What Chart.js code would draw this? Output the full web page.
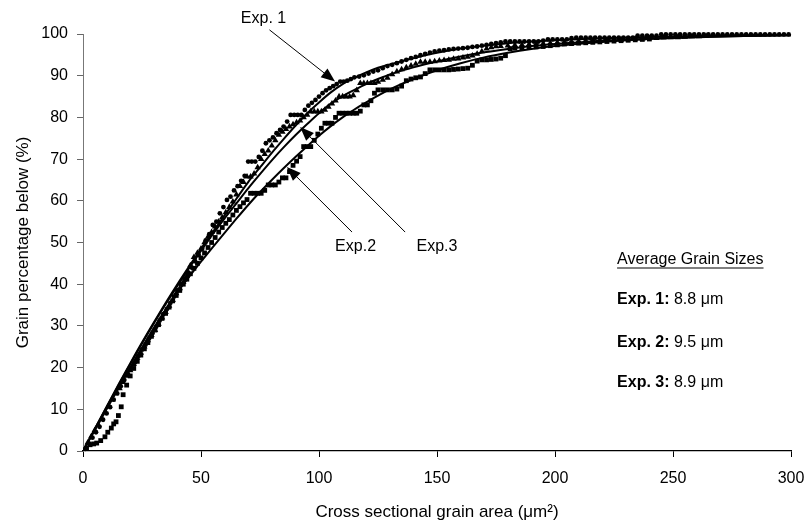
<!DOCTYPE html>
<html>
<head>
<meta charset="utf-8">
<script src="https://cdn.jsdelivr.net/npm/chart.js@4"></script>
<style>
  body { margin: 0; background: #fff; }
  #wrap { width: 808px; height: 525px; }
</style>
</head>
<body>
<div id="wrap"><canvas id="grainChart" width="808" height="525"></canvas></div>
<script>
// Data
const exp1X = [1,2.5,4,5.5,7,8.5,10,11.5,13,14.5,16,17.5,19,20.5,22,23.5,25,26.5,28,29.5,31,32.5,34,35.5,37,38.5,40,41.5,43,44.5,46,47.5,49,50.5,52,53.5,55,56.5,58,59.5,61,62.5,64,65.5,67,68.5,70,71.5,73,74.5,76,77.5,79,80.5,82,83.5,85,86.5,88,89.5,91,92.5,94,95.5,97,98.5,100,101.5,103,104.5,106,107.5,109,110.5,112,113.5,115,117,119,121,123,125,127,129,131,133,135,137,139,141,143,145,147,149,151,153,155,157,159,161,163,165,167,169,171,173,175,177,179,181,183,185,187,189,191,193,195,197,199,201,203,205,207,209,211,213,215,217,219,221,223,225,227,229,231,233,235,237,239,241,243,245,247,249,251,253,255,257,259,261,263,265,267,269,271,273,275,277,279,281,283,285,287,289,291,293,295,297,299];
const exp1Y = [0.5,1.8,3.2,4.5,5.8,7.5,9,10.5,12.3,13.8,15.5,17,18.5,19.8,21.2,22.8,24.3,25.5,27,28.3,29.8,31.3,32.8,34,35.5,37,38.5,40,41.3,42.8,44,45.5,47,48.5,50.5,52,54.2,55,57,58.5,60.2,61,62.5,63.5,64.8,66,69.4,69.4,69.4,70.5,72,73.8,74.5,75.2,76.2,77,77.8,79,80.6,80.6,80.6,80.6,81.8,82.8,83.5,84.2,85,85.8,86.5,87,87.5,88,88.6,88.6,88.8,89.2,89.6,89.8,90.1,90.5,91,91.3,91.8,92.3,92.6,93,93.4,93.8,94.2,94.5,94.9,95.2,95.5,95.8,96,96.1,96.3,96.4,96.5,96.6,96.7,96.9,97,97.2,97.4,97.6,97.8,98,98.2,98.2,98.2,98.2,98.2,98.2,98.2,98.2,98.4,98.7,98.7,98.7,98.7,98.7,99,99.1,99.1,99.1,99.1,99.1,99.1,99.1,99.1,99.1,99.1,99.1,99.1,99.1,99.6,99.6,99.6,99.6,99.6,99.9,99.9,99.9,99.9,99.9,99.9,99.9,99.9,99.9,99.9,99.9,99.9,99.9,99.9,99.9,99.9,99.9,99.9,99.9,99.9,99.9,99.9,99.9,99.9,99.9,99.9,99.9,99.9];

const exp2X = [1.5,3,4.5,5.8,7.5,9.3,10.5,12,13,14,15,16.2,17,18.5,20,21.5,23,24.5,26,27.5,29,30.5,32,33.5,35,36.5,38,39.5,41,42.5,44,45.5,47,48.5,50,51.5,53,54.5,56,57.5,59,60.5,62,63.5,65,66.5,68,69.5,71,72.5,74,75.5,77,78.5,80,81.5,83,84.5,86,87.5,89,90.5,92,93.5,95,96.5,98,99.5,101,102.5,104,105.5,107,108.5,110,111.5,113,114.5,116,117.5,119,120.5,122,123.5,125,127,129,131,133,135,137,139,141,143,145,147,149,151,153,155,157,159,161,163,165,167,169,171,173,175,177,179,181,183,186,189,192,195,198,201,204,207,210,213,216,219,222,225,228,231,234,237,240];
const exp2Y = [0.7,1.5,1.7,1.9,2.5,3.4,4.5,5.5,6.5,7,8.5,10.6,13.5,15.8,18,19.8,21.5,23,24.5,26,27.5,29,30.3,31.8,33,34.5,36,37.3,38.5,40,41.2,42.5,43.8,45,46.3,47.5,48.8,50,51.2,52.5,53.6,54.6,55.5,56.6,57.7,58.6,59.5,60.3,61.8,61.8,61.8,61.8,62.5,63.8,63.8,63.8,64.5,65.5,65.5,67,68.5,69.5,70.6,73,73,73,74.5,76,77.4,78.6,78.6,78.6,80,81,81,81,81,81,81,81.5,83,83,84,85.8,86.6,86.6,86.6,86.6,86.8,87.5,88.8,89.2,89.5,89.7,90.5,91.4,91.4,91.4,91.4,91.4,91.5,91.6,91.7,91.8,92.5,93.5,93.8,93.8,93.9,94,94.2,94.8,96.5,96.6,96.7,96.8,96.9,97,97.2,97.4,97.6,97.7,97.8,97.9,98,98.1,98.2,98.3,98.4,98.5,98.6,98.7,98.8,98.9];

const exp3X = [2,3.5,5,6.5,8,9.5,11,12.5,14,15.5,17,18.5,20,21.5,23,24.5,26,27.5,29,30.5,32,33.5,35,36.5,38,39.5,41,42.5,44,45.5,47,48.5,50,51.5,53,54.5,56,57.5,59,60.5,62,63.5,65,66.5,68,69.5,71,72.5,74,75.5,77,78.5,80,81.5,83,84.5,86,87.5,89,90.5,92,93.5,95,96.5,98,99.5,101,102.5,104,105.5,107,108.5,110,111.5,113,114.5,116,117.5,119,120.5,122,123.5,125,127,129,131,133,135,137,139,141,143,145,147,149,151,153,155,157,159,161,163,165,167,169,171,173,175,177,180,183,186,189,192,195,198,201,204,207,210,213,216,219,222,225,228,231,234,237,240,243,246,249,252,255,258,261,264];
const exp3Y = [2,3.5,5,6.3,7.8,9.3,10.8,12.3,13.8,15,16.5,18,19.3,20.8,22.3,23.5,25,26.5,27.8,29,30.5,32,33.3,34.8,36.2,37.8,39,40.5,42,44.5,46.5,47.5,48.5,50,51.4,52.5,53.8,55,56,57.2,58.5,59.8,61.5,63.5,64.5,65.8,65.8,66.5,68,70,71.2,72,73.2,74.5,75.8,76.5,77.2,77.8,78.3,78.8,79.2,80,80.6,81.4,81.4,81.4,81.4,81.8,82.5,83.3,84,85,85,85,85,85.3,86.5,88.2,88.2,88.2,88.2,88.2,88.5,89,89.5,90.3,91,91.5,92,92.4,92.8,93.3,93.3,93.3,93.4,93.6,93.7,93.8,94,94.1,94.3,94.5,94.8,95.2,95.8,96.5,96.8,97,97.1,97.2,97.3,97.4,97.5,97.6,97.7,97.8,97.9,98,98.1,98.2,98.3,98.4,98.4,98.5,98.6,98.6,98.7,98.8,98.9,99,99,99.1,99.2,99.2,99.3,99.4,99.4,99.5];

// fitted curves
const fitX  = [0,5,10,15,20,25,30,35,40,45,50,55,60,65,70,75,80,85,90,95,100,105,110,115,120,125,130,140,150,160,170,180,190,200,220,240,260,280,300];
const fit1Y = [0,5.3,10.6,15.9,21,26,30.8,35.5,40,44.3,48.5,52.5,56.5,60.5,64.5,68,71.5,74.8,78,81,83.6,86,88,89.5,90.8,91.9,92.7,94.2,95.5,96.5,97.2,97.8,98.2,98.5,99,99.3,99.5,99.7,99.8];
const fit2Y = [0,5,10,15,20,24.8,29.5,33.9,38,41.8,45.4,48.9,52.3,55.7,59,62.1,65,67.8,70.5,73.1,75.6,77.9,80,81.9,83.6,85.2,86.7,89.2,91.3,93,94.4,95.5,96.4,97.1,98.1,98.8,99.2,99.5,99.7];
const fit3Y = [0,5.2,10.5,15.7,20.8,25.8,30.6,35.2,39.6,43.9,48,52,55.8,59.4,63,66.4,69.7,72.8,75.7,78.4,81,83.3,85.1,86.6,88,89.2,90.3,92,93.4,94.6,95.6,96.4,97.1,97.6,98.4,98.9,99.3,99.5,99.7];

// arrow call-outs (data units)
const calloutText = ['Exp. 1', 'Exp.2', 'Exp.3'];
const calloutTextX = [76.5, 115.5, 150];
const calloutTextY = [103.6, 48.9, 48.9];
const calloutFromX = [79, 114, 136.5];
const calloutFromY = [101, 52.5, 52.5];
const calloutTipX = [106.8, 86.4, 92];
const calloutTipY = [88.6, 68.1, 77.7];

// average grain size box
const sizeTitle = 'Average Grain Sizes';
const sizeLabels = ['Exp. 1:', 'Exp. 2:', 'Exp. 3:'];
const sizeValues = ['8.8 μm', '9.5 μm', '8.9 μm'];
const sizeBoxX = 226.3;
const sizeRowsY = [45.8, 36.2, 26.1, 16.5];

const FONT = "'Liberation Sans', Arial, Helvetica, sans-serif";

function pts(xs, ys){
    return xs.map((x, i) => ({x: x, y: ys[i]}));
}

const notesPlugin = {
    id: 'notes',
    afterDatasetsDraw(chart){
        const ctx = chart.ctx;
        const xs = chart.scales.x, ys = chart.scales.y;
        ctx.save();
        ctx.fillStyle = '#000';
        ctx.strokeStyle = '#000';

        // arrows
        calloutText.forEach((t, i) => {
            const fx = xs.getPixelForValue(calloutFromX[i]);
            const fy = ys.getPixelForValue(calloutFromY[i]);
            const tx = xs.getPixelForValue(calloutTipX[i]);
            const ty = ys.getPixelForValue(calloutTipY[i]);
            const ang = Math.atan2(ty - fy, tx - fx);
            const len = 14, half = 5.5;
            ctx.lineWidth = 1;
            ctx.beginPath();
            ctx.moveTo(fx, fy);
            ctx.lineTo(tx - Math.cos(ang) * len * 0.8, ty - Math.sin(ang) * len * 0.8);
            ctx.stroke();
            ctx.beginPath();
            ctx.moveTo(tx, ty);
            ctx.lineTo(tx - Math.cos(ang) * len + Math.sin(ang) * half, ty - Math.sin(ang) * len - Math.cos(ang) * half);
            ctx.lineTo(tx - Math.cos(ang) * len - Math.sin(ang) * half, ty - Math.sin(ang) * len + Math.cos(ang) * half);
            ctx.closePath();
            ctx.fill();

            ctx.font = '16px ' + FONT;
            ctx.textAlign = 'center';
            ctx.textBaseline = 'middle';
            ctx.fillText(t, xs.getPixelForValue(calloutTextX[i]), ys.getPixelForValue(calloutTextY[i]));
        });

        // grain size box
        const bx = xs.getPixelForValue(sizeBoxX);
        ctx.textAlign = 'left';
        ctx.textBaseline = 'middle';
        ctx.font = '16px ' + FONT;
        const hy = ys.getPixelForValue(sizeRowsY[0]);
        ctx.fillText(sizeTitle, bx, hy);
        const w = ctx.measureText(sizeTitle).width;
        ctx.lineWidth = 1.2;
        ctx.beginPath();
        ctx.moveTo(bx, hy + 8);
        ctx.lineTo(bx + w, hy + 8);
        ctx.stroke();

        sizeLabels.forEach((lab, i) => {
            const y = ys.getPixelForValue(sizeRowsY[i + 1]);
            ctx.font = 'bold 16px ' + FONT;
            ctx.fillText(lab, bx, y);
            const lw = ctx.measureText(lab + ' ').width;
            ctx.font = '16px ' + FONT;
            ctx.fillText(sizeValues[i], bx + lw, y);
        });
        ctx.restore();
    }
};

Chart.defaults.color = '#000';
Chart.defaults.font.family = FONT;

const ctx = document.getElementById('grainChart').getContext('2d');
new Chart(ctx, {
    type: 'scatter',
    data: {
        datasets: [
            {label: 'Exp. 1', data: pts(exp1X, exp1Y), pointStyle: 'circle', pointRadius: 2.4, backgroundColor: '#000', borderColor: '#000', borderWidth: 0, clip: false},
            {label: 'Exp. 2', data: pts(exp2X, exp2Y), pointStyle: 'rect', pointRadius: 3.4, backgroundColor: '#000', borderColor: '#000', borderWidth: 0, clip: false},
            {label: 'Exp. 3', data: pts(exp3X, exp3Y), pointStyle: 'triangle', pointRadius: 3.7, backgroundColor: '#000', borderColor: '#000', borderWidth: 0, clip: false},
            {label: 'Fit 1', type: 'line', data: pts(fitX, fit1Y), showLine: true, pointRadius: 0, borderColor: '#000', borderWidth: 2, cubicInterpolationMode: 'monotone', fill: false},
            {label: 'Fit 2', type: 'line', data: pts(fitX, fit2Y), showLine: true, pointRadius: 0, borderColor: '#000', borderWidth: 2, cubicInterpolationMode: 'monotone', fill: false},
            {label: 'Fit 3', type: 'line', data: pts(fitX, fit3Y), showLine: true, pointRadius: 0, borderColor: '#000', borderWidth: 2, cubicInterpolationMode: 'monotone', fill: false}
        ]
    },
    options: {
        responsive: false,
        animation: false,
        devicePixelRatio: 1,
        layout: {padding: {left: 10, right: 17, top: 34, bottom: 0}},
        plugins: {legend: {display: false}, tooltip: {enabled: false}},
        scales: {
            x: {
                type: 'linear', min: 0, max: 300,
                afterFit: s => { s.height = 74; s.paddingRight = 10; },
                ticks: {stepSize: 50, padding: 12, font: {size: 16}, maxRotation: 0},
                grid: {drawOnChartArea: false, drawTicks: true, tickLength: 6, color: '#000'},
                border: {display: true, color: '#000', width: 1.3},
                title: {display: true, text: 'Cross sectional grain area (μm²)', font: {size: 17}, padding: {top: 0, bottom: 2}}
            },
            y: {
                type: 'linear', min: 0, max: 100,
                afterFit: s => { s.width = 73; },
                ticks: {stepSize: 10, padding: 9, font: {size: 16}},
                grid: {drawOnChartArea: false, drawTicks: true, tickLength: 6, color: '#666'},
                border: {display: true, color: '#777', width: 1},
                title: {display: true, text: 'Grain percentage below (%)', font: {size: 17}, padding: {top: 3, bottom: 0}}
            }
        }
    },
    plugins: [notesPlugin]
});
</script>
</body>
</html>
